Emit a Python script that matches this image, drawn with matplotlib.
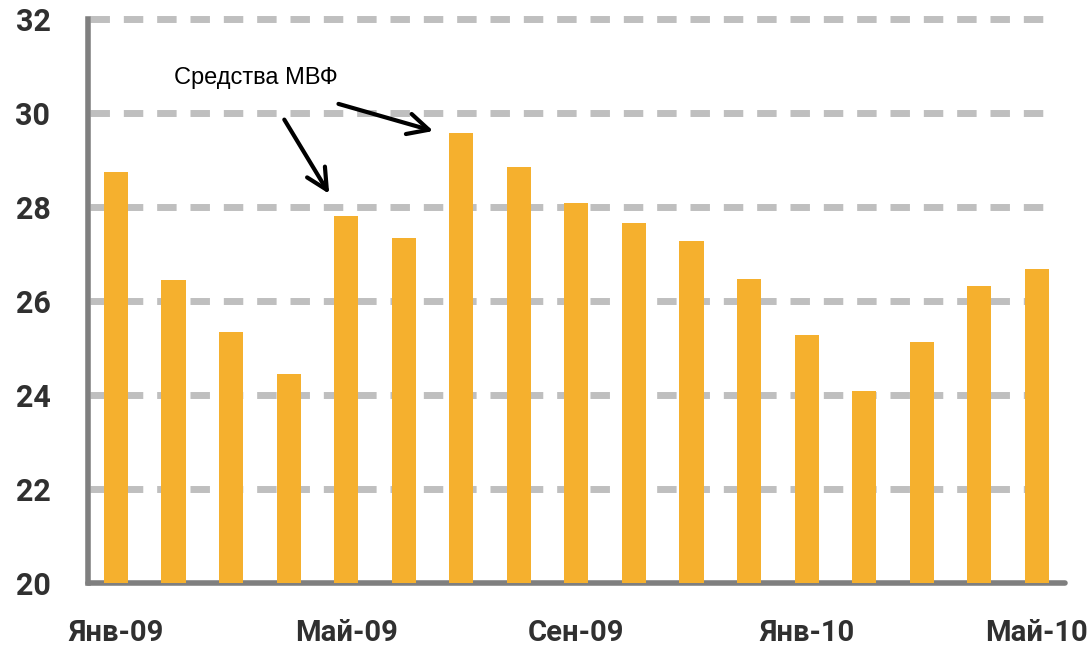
import matplotlib
matplotlib.use('Agg')
from matplotlib import pyplot as plt

months = ['Янв-09', 'Фев-09', 'Мар-09', 'Апр-09', 'Май-09', 'Июн-09', 'Июл-09', 'Авг-09',
          'Сен-09', 'Окт-09', 'Ноя-09', 'Дек-09', 'Янв-10', 'Фев-10', 'Мар-10', 'Апр-10', 'Май-10']
values = [28.75, 26.45, 25.35, 24.45, 27.8, 27.35, 29.58, 28.85,
          28.08, 27.65, 27.28, 26.47, 25.28, 24.08, 25.13, 26.32, 26.68]
tick_idx = [0, 4, 8, 12, 16]
yticks = [20, 22, 24, 26, 28, 30, 32]

barColor = '#F5B02E'
spineColor = '#7F7F7F'
gridColor = '#BFBFBF'

fig = plt.figure(figsize=(10.91, 6.47), dpi=100)
ax = fig.add_axes([88 / 1091, 64 / 647, (1065 - 88) / 1091, (583 - 19) / 647])

x = list(range(len(values)))
ax.bar(x, values, width=0.42, color=barColor, zorder=3)

ax.set_xlim(-0.486, 16.49)
ax.set_ylim(20, 32)

# dashed grid lines (stop a bit before the right end of the axis)
ax.hlines(yticks[1:], -0.45, 16.32, colors=gridColor, linewidth=5,
          linestyles=(0, (2.8, 2.0)), zorder=1, clip_on=False)

for s in ['top', 'right']:
    ax.spines[s].set_visible(False)
for s in ['left', 'bottom']:
    ax.spines[s].set_color(spineColor)
    ax.spines[s].set_linewidth(4)
ax.spines['bottom'].set_capstyle('round')

ax.set_yticks(yticks)
ax.set_yticklabels([str(v) for v in yticks])
ax.set_xticks(tick_idx)
ax.set_xticklabels([months[i] for i in tick_idx])
ax.tick_params(axis='y', length=0, pad=27, labelsize=22, labelcolor='#303030')
ax.tick_params(axis='x', length=0, pad=26, labelsize=21, labelcolor='#303030')
for lbl in ax.get_xticklabels() + ax.get_yticklabels():
    lbl.set_fontfamily(['Roboto', 'DejaVu Sans'])
    lbl.set_fontweight('bold')

ax.text(2.43, 30.74, 'Средства МВФ', fontsize=17, ha='center', va='center',
        family=['Liberation Sans Narrow', 'Liberation Sans', 'DejaVu Sans'])
arrowProps = dict(arrowstyle='->,head_length=1.5,head_width=0.75', color='black', lw=3)
ax.annotate('', xy=(3.73, 28.23), xytext=(2.90, 29.91), arrowprops=arrowProps)
ax.annotate('', xy=(5.56, 29.6), xytext=(3.82, 30.21), arrowprops=arrowProps)

plt.savefig('out.png', dpi=100)
